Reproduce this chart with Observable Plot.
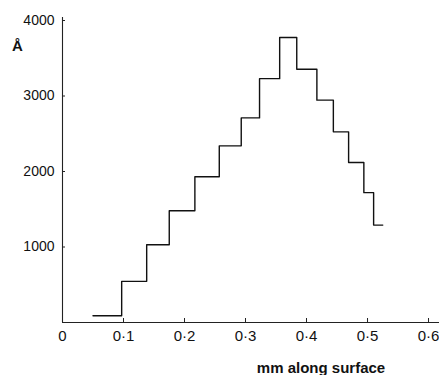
<!DOCTYPE html>
<html>
<head>
<meta charset="utf-8">
<script src="https://cdn.jsdelivr.net/npm/d3@7"></script>
<script src="https://cdn.jsdelivr.net/npm/@observablehq/plot@0.6"></script>
<style>
  html, body { margin: 0; padding: 0; background: #fff; }
  #chart svg { display: block; }
</style>
</head>
<body>
<div id="chart"></div>
<script>
// Step edges (mm along surface) and the level (Å) of each step between edges
const edges = [0.050, 0.097, 0.138, 0.175, 0.217, 0.257, 0.293, 0.323, 0.356, 0.384, 0.417, 0.444, 0.469, 0.494, 0.510, 0.525];
const levels = [90, 545, 1030, 1480, 1930, 2340, 2710, 3230, 3775, 3355, 2945, 2525, 2120, 1720, 1290];
const xTicks = [0, 0.1, 0.2, 0.3, 0.4, 0.5, 0.6];
const xTickLabels = ["0", "0·1", "0·2", "0·3", "0·4", "0·5", "0·6"];
const yTicks = [1000, 2000, 3000, 4000];
const yTickLabels = ["1000", "2000", "3000", "4000"];
const yLabel = "Å";
const xLabel = "mm along surface";

const steps = edges.map((e, i) => ({x: e, y: levels[Math.min(i, levels.length - 1)]}));

const font = "Liberation Sans, Arial, sans-serif";

const chart = Plot.plot({
  width: 439,
  height: 375,
  marginLeft: 62,
  marginRight: 0,
  marginTop: 20,
  marginBottom: 53,
  style: {fontFamily: font, background: "#fff", color: "#111"},
  x: {domain: [0, 0.618]},
  y: {domain: [0, 4000]},
  marks: [
    Plot.ruleX([0], {y1: 0, y2: 4040, stroke: "#222", strokeWidth: 1.1}),
    Plot.ruleY([0], {stroke: "#222", strokeWidth: 1.1}),
    Plot.axisX({
      ticks: xTicks,
      tickFormat: (d, i) => xTickLabels[i],
      tickSize: -4,
      tickPadding: 12,
      fontSize: 15,
      label: null,
      stroke: "#222"
    }),
    Plot.axisY({
      ticks: yTicks,
      tickFormat: (d, i) => yTickLabels[i],
      tickSize: -3,
      tickPadding: 11,
      fontSize: 14,
      label: null,
      stroke: "#222"
    }),
    Plot.line(steps, {x: "x", y: "y", curve: "step-after", stroke: "#111", strokeWidth: 1.4}),
    Plot.text([yLabel], {frameAnchor: "top-left", dx: -45, dy: 26, fontSize: 15, fontWeight: "bold", textAnchor: "middle", lineAnchor: "middle", fill: "#111"}),
    Plot.text([xLabel], {frameAnchor: "bottom", dx: 70, dy: 46, fontSize: 15, fontWeight: "bold", textAnchor: "middle", lineAnchor: "middle", fill: "#111"})
  ]
});
document.getElementById("chart").append(chart);
</script>
</body>
</html>
